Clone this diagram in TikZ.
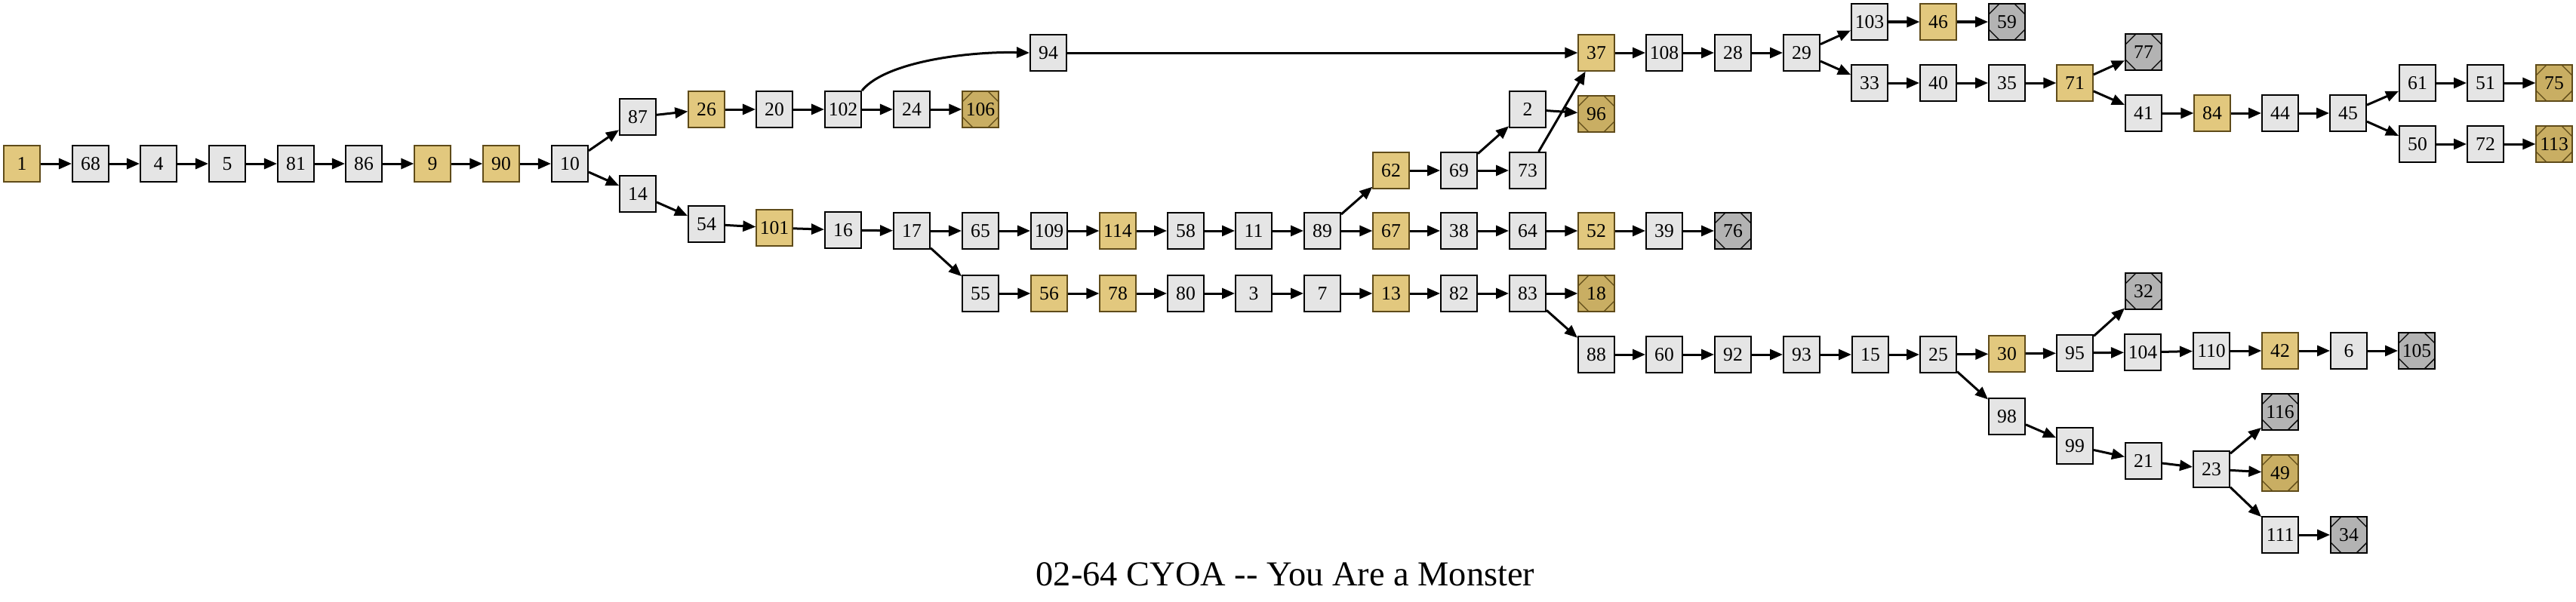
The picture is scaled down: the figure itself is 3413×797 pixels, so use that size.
\documentclass[tikz,border=0pt]{standalone}
\usepackage{fontspec}
\setmainfont{Liberation Serif}
\usepackage{tikz}
\usetikzlibrary{arrows.meta}
\definecolor{ocre}{RGB}{226,200,126}
\definecolor{ocref}{RGB}{201,174,99}
\definecolor{brun}{RGB}{95,75,25}
\definecolor{grisc}{RGB}{229,229,229}
\definecolor{grism}{RGB}{179,179,179}

\begin{document}
\begin{tikzpicture}[x=0.01cm, y=0.01cm,
  pg/.style={rectangle, draw=black, fill=grisc, line width=0.02cm, minimum size=0.48cm,
             inner sep=0pt, font=\fontsize{7.3}{8}\selectfont},
  pgor/.style={pg, draw=brun, fill=ocre, line width=0.013cm},
  coins/.style={path picture={
     \draw[#1, line width=0.013cm]
       ([xshift=0.14cm]path picture bounding box.north west) -- ([yshift=-0.14cm]path picture bounding box.north west)
       ([xshift=-0.14cm]path picture bounding box.north east) -- ([yshift=-0.14cm]path picture bounding box.north east)
       ([xshift=0.14cm]path picture bounding box.south west) -- ([yshift=0.14cm]path picture bounding box.south west)
       ([xshift=-0.14cm]path picture bounding box.south east) -- ([yshift=0.14cm]path picture bounding box.south east);}},
  finor/.style={pgor, fill=ocref, coins=brun},
  fing/.style={pg, fill=grism, coins=black},
  fl/.style={-{Triangle[length=0.17cm, width=0.14cm]}, line width=0.03cm}]

\useasboundingbox (0,0) rectangle (3413,-797);

% ── départ ──
\node[pgor] (n1) at (29,-217) {1};
\node[pg] (n68) at (120,-217) {68};
\node[pg] (n4) at (210,-217) {4};
\node[pg] (n5) at (301,-217) {5};
\node[pg] (n81) at (392,-217) {81};
\node[pg] (n86) at (482,-217) {86};
\node[pgor] (n9) at (573,-217) {9};
\node[pgor] (n90) at (664,-217) {90};
\node[pg] (n10) at (755,-217) {10};

% ── branche haute ──
\node[pg] (n87) at (845,-155) {87};
\node[pgor] (n26) at (936,-145) {26};
\node[pg] (n20) at (1026,-145) {20};
\node[pg] (n102) at (1117,-145) {102};
\node[pg] (n24) at (1208,-145) {24};
\node[finor] (n106) at (1299,-145) {106};
\node[pg] (n94) at (1389,-70) {94};

% ── branche basse ──
\node[pg] (n14) at (845,-257) {14};
\node[pg] (n54) at (936,-297) {54};
\node[pgor] (n101) at (1026,-302) {101};
\node[pg] (n16) at (1117,-305) {16};
\node[pg] (n17) at (1208,-306) {17};
\node[pg] (n65) at (1299,-306) {65};
\node[pg] (n109) at (1390,-306) {109};
\node[pgor] (n114) at (1481,-306) {114};
\node[pg] (n58) at (1571,-306) {58};
\node[pg] (n11) at (1661,-306) {11};
\node[pg] (n89) at (1752,-306) {89};
\node[pgor] (n67) at (1843,-306) {67};
\node[pg] (n38) at (1933,-306) {38};
\node[pg] (n64) at (2024,-306) {64};
\node[pgor] (n52) at (2115,-306) {52};
\node[pg] (n39) at (2205,-306) {39};
\node[fing] (n76) at (2296,-306) {76};

\node[pg] (n55) at (1299,-389) {55};
\node[pgor] (n56) at (1390,-389) {56};
\node[pgor] (n78) at (1481,-389) {78};
\node[pg] (n80) at (1571,-389) {80};
\node[pg] (n3) at (1661,-389) {3};
\node[pg] (n7) at (1752,-389) {7};
\node[pgor] (n13) at (1843,-389) {13};
\node[pg] (n82) at (1933,-389) {82};
\node[pg] (n83) at (2024,-389) {83};
\node[finor] (n18) at (2115,-389) {18};

\node[pgor] (n62) at (1843,-226) {62};
\node[pg] (n69) at (1933,-226) {69};
\node[pg] (n73) at (2024,-226) {73};
\node[pg] (n2) at (2024,-145) {2};
\node[finor] (n96) at (2115,-151) {96};

% ── après 37 ──
\node[pgor] (n37) at (2115,-70) {37};
\node[pg] (n108) at (2205,-70) {108};
\node[pg] (n28) at (2296,-70) {28};
\node[pg] (n29) at (2387,-70) {29};
\node[pg] (n103) at (2477,-29) {103};
\node[pgor] (n46) at (2568,-29) {46};
\node[fing] (n59) at (2659,-29) {59};
\node[pg] (n33) at (2477,-110) {33};
\node[pg] (n40) at (2568,-110) {40};
\node[pg] (n35) at (2659,-110) {35};
\node[pgor] (n71) at (2749,-110) {71};
\node[fing] (n77) at (2840,-69) {77};
\node[pg] (n41) at (2840,-150) {41};
\node[pgor] (n84) at (2931,-150) {84};
\node[pg] (n44) at (3021,-150) {44};
\node[pg] (n45) at (3111,-150) {45};
\node[pg] (n61) at (3203,-110) {61};
\node[pg] (n51) at (3293,-110) {51};
\node[finor] (n75) at (3384,-110) {75};
\node[pg] (n50) at (3203,-191) {50};
\node[pg] (n72) at (3293,-191) {72};
\node[finor] (n113) at (3384,-191) {113};

% ── après 83 ──
\node[pg] (n88) at (2115,-470) {88};
\node[pg] (n60) at (2205,-470) {60};
\node[pg] (n92) at (2296,-470) {92};
\node[pg] (n93) at (2387,-470) {93};
\node[pg] (n15) at (2478,-470) {15};
\node[pg] (n25) at (2568,-470) {25};
\node[pgor] (n30) at (2659,-469) {30};
\node[pg] (n95) at (2749,-468) {95};
\node[fing] (n32) at (2840,-386) {32};
\node[pg] (n104) at (2839,-467) {104};
\node[pg] (n110) at (2930,-465) {110};
\node[pgor] (n42) at (3021,-465) {42};
\node[pg] (n6) at (3112,-465) {6};
\node[fing] (n105) at (3202,-465) {105};
\node[pg] (n98) at (2659,-552) {98};
\node[pg] (n99) at (2749,-591) {99};
\node[pg] (n21) at (2840,-611) {21};
\node[pg] (n23) at (2930,-622) {23};
\node[fing] (n116) at (3021,-546) {116};
\node[finor] (n49) at (3021,-627) {49};
\node[pg] (n111) at (3021,-709) {111};
\node[fing] (n34) at (3112,-709) {34};

% ── liens ──
\path[fl] (n1) edge (n68) (n68) edge (n4) (n4) edge (n5) (n5) edge (n81) (n81) edge (n86)
  (n86) edge (n9) (n9) edge (n90) (n90) edge (n10) (n10) edge (n87) (n10) edge (n14)
  (n87) edge (n26) (n26) edge (n20) (n20) edge (n102) (n102) edge (n24) (n24) edge (n106)
  (n94) edge (n37)
  (n14) edge (n54) (n54) edge (n101) (n101) edge (n16) (n16) edge (n17)
  (n17) edge (n65) (n65) edge (n109) (n109) edge (n114) (n114) edge (n58) (n58) edge (n11)
  (n11) edge (n89) (n89) edge (n62) (n89) edge (n67)
  (n17) edge (n55) (n55) edge (n56) (n56) edge (n78) (n78) edge (n80) (n80) edge (n3)
  (n3) edge (n7) (n7) edge (n13) (n13) edge (n82) (n82) edge (n83) (n83) edge (n18) (n83) edge (n88)
  (n62) edge (n69) (n69) edge (n2) (n69) edge (n73) (n2) edge (n96) (n73) edge (n37)
  (n67) edge (n38) (n38) edge (n64) (n64) edge (n52) (n52) edge (n39) (n39) edge (n76)
  (n37) edge (n108) (n108) edge (n28) (n28) edge (n29) (n29) edge (n103) (n29) edge (n33)
  (n103) edge (n46) (n46) edge (n59) (n33) edge (n40) (n40) edge (n35) (n35) edge (n71)
  (n71) edge (n77) (n71) edge (n41) (n41) edge (n84) (n84) edge (n44) (n44) edge (n45)
  (n45) edge (n61) (n61) edge (n51) (n51) edge (n75) (n45) edge (n50) (n50) edge (n72) (n72) edge (n113)
  (n88) edge (n60) (n60) edge (n92) (n92) edge (n93) (n93) edge (n15) (n15) edge (n25)
  (n25) edge (n30) (n30) edge (n95) (n95) edge (n32) (n95) edge (n104) (n104) edge (n110)
  (n110) edge (n42) (n42) edge (n6) (n6) edge (n105)
  (n25) edge (n98) (n98) edge (n99) (n99) edge (n21) (n21) edge (n23)
  (n23) edge (n116) (n23) edge (n49) (n23) edge (n111) (n111) edge (n34);
\draw[fl] (n102.north east) .. controls (1175,-80) and (1290,-68) .. (n94.west);

% ── titre ──
\node[anchor=base, font=\fontsize{13.2}{15}\selectfont] (titre) at (1703,-776)
  {02-64 CYOA \mbox{-}\mbox{-} You Are a Monster};

\end{tikzpicture}
\end{document}
